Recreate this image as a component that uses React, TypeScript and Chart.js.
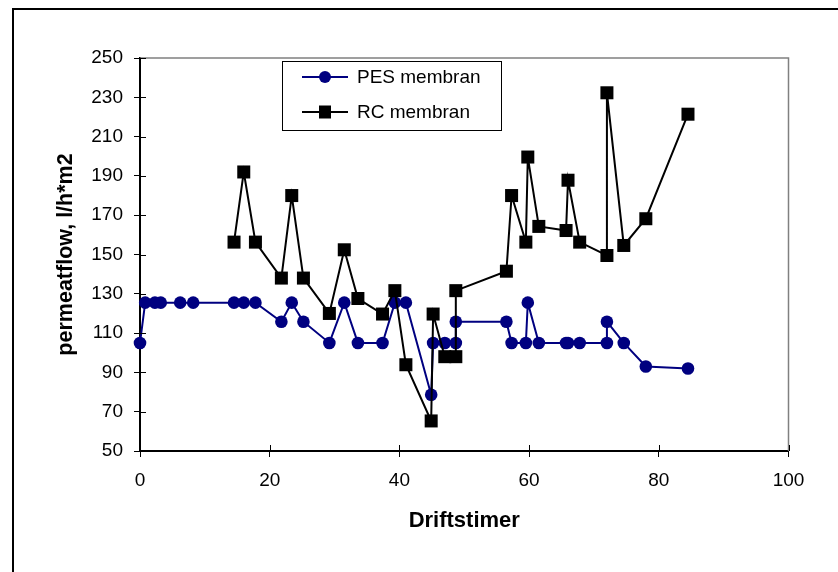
import React, { useEffect, useRef } from "react";
import { Chart, registerables } from "chart.js";

Chart.register(...registerables);

// ---- data ----
const pesLabel = "PES membran";
const rcLabel = "RC membran";

const pesX = [0, 0.8, 2.3, 3.2, 6.2, 8.2, 14.5, 16, 17.8, 21.8, 23.4, 25.2, 29.2, 31.5, 33.6, 37.4, 39.3, 41, 44.9, 45.2, 47, 48.7, 48.7, 56.5, 57.3, 59.5, 59.8, 61.5, 65.7, 66, 67.8, 72, 72, 74.6, 78, 84.5];
const pesY = [105, 125.5, 125.5, 125.5, 125.5, 125.5, 125.5, 125.5, 125.5, 115.8, 125.5, 115.8, 105, 125.5, 105, 105, 125.5, 125.5, 78.6, 105, 105, 105, 115.8, 115.8, 105, 105, 125.5, 105, 105, 105, 105, 105, 115.8, 105, 93, 92];

const rcX = [14.5, 16, 17.8, 21.8, 23.4, 25.2, 29.2, 31.5, 33.6, 37.4, 39.3, 41, 44.9, 45.2, 47, 48.7, 48.7, 56.5, 57.3, 59.5, 59.8, 61.5, 65.7, 66, 67.8, 72, 72, 74.6, 78, 84.5];
const rcY = [156.3, 192, 156.3, 138, 180, 138, 120, 152.4, 127.6, 119.7, 131.6, 93.9, 65.3, 119.7, 98, 98, 131.6, 141.5, 180, 156.3, 199.6, 164.3, 162.2, 187.8, 156.3, 149.5, 232.3, 154.6, 168.2, 221.4];

const xMin = 0;
const xMax = 100;
const xStep = 20;
const yMin = 50;
const yMax = 250;
const yStep = 20;

const xTitle = "Driftstimer";
const yTitle = "permeatflow, l/h*m2";

const FONT = "'Liberation Sans', Arial, Helvetica, sans-serif";
const PES_COLOR = "#000080";
const RC_COLOR = "#000000";

const decorPlugin = {
  id: "decor",
  afterDraw(chart: any) {
    const { ctx, chartArea } = chart;
    const { left, right, top, bottom } = chartArea;
    ctx.save();
    ctx.strokeStyle = "#808080";
    ctx.lineWidth = 1.5;
    ctx.beginPath();
    ctx.moveTo(left, top);
    ctx.lineTo(right, top);
    ctx.lineTo(right, bottom);
    ctx.stroke();
    ctx.strokeStyle = "#000";
    ctx.lineWidth = 1;
    const ys = chart.scales.y;
    ys.ticks.forEach((t: any) => {
      const py = Math.round(ys.getPixelForValue(t.value)) + 0.5;
      ctx.beginPath();
      ctx.moveTo(left, py);
      ctx.lineTo(left + 6, py);
      ctx.stroke();
    });
    const xs = chart.scales.x;
    xs.ticks.forEach((t: any) => {
      const px = Math.round(xs.getPixelForValue(t.value)) + 0.5;
      ctx.beginPath();
      ctx.moveTo(px, bottom);
      ctx.lineTo(px, bottom - 6);
      ctx.stroke();
    });
    ctx.restore();
  },
  afterDatasetsDraw(chart: any) {
    const { ctx } = chart;
    ctx.save();
    const bx = 282.5, by = 61.5, bw = 219, bh = 69;
    ctx.fillStyle = "#fff";
    ctx.fillRect(bx, by, bw, bh);
    ctx.strokeStyle = "#000";
    ctx.lineWidth = 1;
    ctx.strokeRect(bx, by, bw, bh);
    const rows = [
      { label: pesLabel, color: PES_COLOR, y: 77, shape: "circle" },
      { label: rcLabel, color: RC_COLOR, y: 112, shape: "rect" },
    ];
    rows.forEach((r) => {
      ctx.strokeStyle = r.color;
      ctx.fillStyle = r.color;
      ctx.lineWidth = 2;
      ctx.beginPath();
      ctx.moveTo(302, r.y);
      ctx.lineTo(348, r.y);
      ctx.stroke();
      if (r.shape === "circle") {
        ctx.beginPath();
        ctx.arc(325, r.y, 6, 0, Math.PI * 2);
        ctx.fill();
      } else {
        ctx.fillRect(325 - 6, r.y - 6.5, 12, 13);
      }
      ctx.fillStyle = "#000";
      ctx.font = `19px ${FONT}`;
      ctx.textAlign = "left";
      ctx.textBaseline = "middle";
      ctx.fillText(r.label, 357, r.y + 1);
    });
    ctx.restore();
  },
};

export default function App() {
  const ref = useRef<HTMLCanvasElement>(null);

  useEffect(() => {
    if (!ref.current) return;
    const chart = new Chart(ref.current, {
      type: "scatter",
      data: {
        datasets: [
          {
            label: pesLabel,
            data: pesX.map((x, i) => ({ x, y: pesY[i] })),
            showLine: true,
            borderColor: PES_COLOR,
            backgroundColor: PES_COLOR,
            borderWidth: 2,
            pointStyle: "circle",
            pointRadius: 6.3,
            pointBorderWidth: 0,
            pointBackgroundColor: PES_COLOR,
            clip: false,
            order: 1,
          },
          {
            label: rcLabel,
            data: rcX.map((x, i) => ({ x, y: rcY[i] })),
            showLine: true,
            borderColor: RC_COLOR,
            backgroundColor: RC_COLOR,
            borderWidth: 2,
            pointStyle: "rect",
            pointRadius: 9.2,
            pointBorderWidth: 0,
            pointBackgroundColor: RC_COLOR,
            clip: false,
            order: 0,
          },
        ],
      },
      options: {
        animation: false,
        responsive: false,
        devicePixelRatio: 1,
        layout: { padding: { left: 0, top: 58, right: 49.5, bottom: 0 } },
        plugins: {
          legend: { display: false },
          tooltip: { enabled: false },
        },
        scales: {
          x: {
            type: "linear",
            min: xMin,
            max: xMax,
            afterFit(scale: any) {
              scale.height = 121;
            },
            ticks: {
              stepSize: xStep,
              color: "#000",
              font: { family: FONT, size: 19 },
              padding: 12,
            },
            grid: {
              drawOnChartArea: false,
              drawTicks: true,
              tickLength: 6,
              color: "#000",
              lineWidth: 1,
            },
            border: { color: "#000", width: 2 },
            title: {
              display: true,
              text: xTitle,
              color: "#000",
              font: { family: FONT, size: 22, weight: "bold" },
              padding: { top: 0, bottom: 38 },
            },
          },
          y: {
            type: "linear",
            min: yMin,
            max: yMax,
            afterFit(scale: any) {
              scale.width = 140;
            },
            ticks: {
              stepSize: yStep,
              color: "#000",
              font: { family: FONT, size: 19 },
              padding: 11,
            },
            grid: {
              drawOnChartArea: false,
              drawTicks: true,
              tickLength: 6,
              color: "#000",
              lineWidth: 1,
            },
            border: { color: "#000", width: 2 },
            title: {
              display: true,
              text: yTitle,
              color: "#000",
              font: { family: FONT, size: 21.5, weight: "bold" },
              padding: { top: 53, bottom: 0 },
            },
          },
        },
      },
      plugins: [decorPlugin],
    } as any);
    return () => chart.destroy();
  }, []);

  return (
    <div
      style={{
        position: "absolute",
        left: 0,
        top: 0,
        width: 838,
        height: 572,
        overflow: "hidden",
        background: "#fff",
      }}
    >
      <div
        style={{
          position: "absolute",
          left: 12,
          top: 8,
          width: 900,
          height: 700,
          borderTop: "2px solid #000",
          borderLeft: "2px solid #000",
        }}
      />
      <canvas
        ref={ref}
        width={838}
        height={572}
        style={{ position: "absolute", left: 0, top: 0, width: 838, height: 572 }}
      />
    </div>
  );
}
